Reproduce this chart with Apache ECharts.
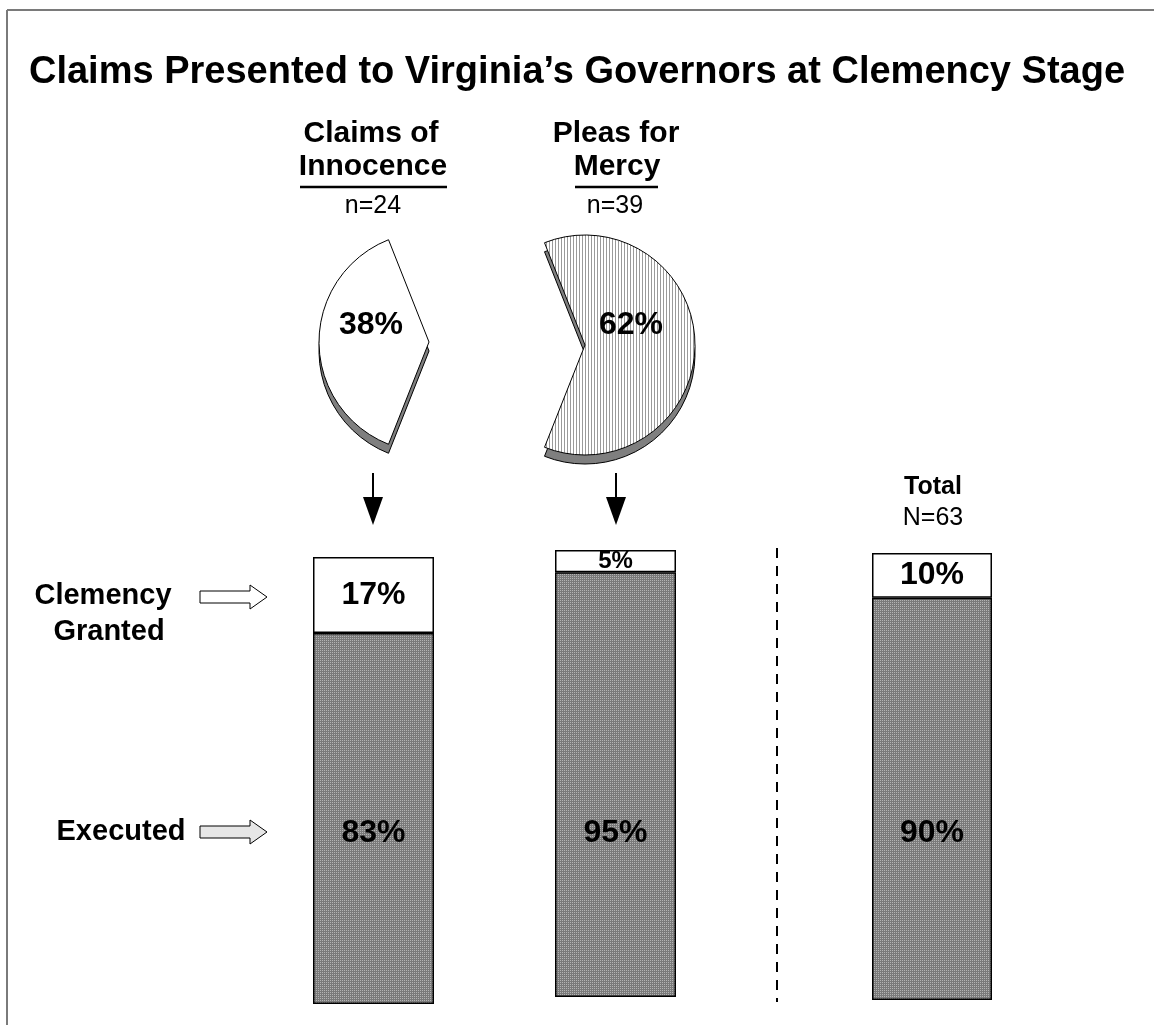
<!DOCTYPE html>
<html>
<head>
<meta charset="UTF-8">
<title>Claims Presented to Virginia's Governors at Clemency Stage</title>
<script src="https://cdn.jsdelivr.net/npm/echarts@6/dist/echarts.min.js"></script>
<style type="text/css">
body{
	padding:0;
	margin:0;
	background:#fff;
}
#main{
	width:1154px;
	height:1025px;
}
</style>
</head>
<body>
<div id="main"></div>
<script type="text/javascript">
// data
var groups = ['Claims of Innocence', 'Pleas for Mercy', 'Total'];
var groupN = ['n=24', 'n=39', 'N=63'];
var granted = [17, 5, 10];
var executed = [83, 95, 90];
var pieShares = [38, 62];

var FONT = 'Liberation Sans, Arial, sans-serif';

// little fill patterns like the original's
function makePattern(w, h, draw) {
	var c = document.createElement('canvas');
	c.width = w; c.height = h;
	draw(c.getContext('2d'));
	return c;
}
var dots = makePattern(2, 2, function (g) {
	g.fillStyle = '#7a7a7a'; g.fillRect(0, 0, 2, 2);
	g.fillStyle = '#b4b4b4'; g.fillRect(0, 0, 1, 1);
});
var hatch = makePattern(3, 1, function (g) {
	g.fillStyle = '#ffffff'; g.fillRect(0, 0, 3, 1);
	g.fillStyle = '#9a9a9a'; g.fillRect(0, 0, 1, 1);
});

// where each bar panel sits
var panels = [
	{left: 313, top: 557, width: 121, height: 447, dist: 155},
	{left: 555, top: 550, width: 121, height: 447, dist: 148},
	{left: 872, top: 553, width: 120, height: 447, dist: 151}
];

var grid = [], xAxis = [], yAxis = [], series = [];
panels.forEach(function (p, i) {
	grid.push({left: p.left, top: p.top, width: p.width, height: p.height});
	xAxis.push({type: 'category', gridIndex: i, data: [groups[i]], show: false});
	yAxis.push({type: 'value', gridIndex: i, min: 0, max: 100, show: false});
	series.push({
		type: 'bar', name: 'Executed', xAxisIndex: i, yAxisIndex: i, stack: 's' + i,
		barWidth: '100%', silent: true,
		itemStyle: {color: {image: dots, repeat: 'repeat'}, borderColor: '#000', borderWidth: 1.5},
		label: {
			show: true, position: 'insideBottom', distance: p.dist,
			formatter: '{c}%', color: '#000', fontFamily: FONT, fontWeight: 'bold', fontSize: 32
		},
		data: [executed[i]]
	});
	series.push({
		type: 'bar', name: 'Clemency Granted', xAxisIndex: i, yAxisIndex: i, stack: 's' + i,
		barWidth: '100%', silent: true,
		itemStyle: {color: '#fff', borderColor: '#000', borderWidth: 1.5},
		label: {
			show: true, position: 'inside', formatter: '{c}%', color: '#000',
			fontFamily: FONT, fontWeight: 'bold', fontSize: granted[i] < 8 ? 24 : 32
		},
		data: [granted[i]]
	});
});

// the two exploded slices, each with a shifted grey copy under it for the 3D rim
var pieDefs = [
	{cx: 429, cy: 342, start: 180 + pieShares[0] * 1.8, fill: '#ffffff', off: [0, -17]},
	{cx: 585, cy: 345, start: pieShares[1] * 1.8, fill: {image: hatch, repeat: 'repeat'}, off: [-12, -20]}
];
pieShares.forEach(function (v, i) {
	var d = pieDefs[i];
	var hidden = {value: 100 - v, itemStyle: {color: 'rgba(0,0,0,0)', borderWidth: 0}, label: {show: false}};
	series.push({
		type: 'pie', silent: true, radius: 110, center: [d.cx, d.cy + 9], startAngle: d.start,
		clockwise: true,
		itemStyle: {color: '#7f7f7f', borderColor: '#000', borderWidth: 1},
		label: {show: false}, labelLine: {show: false},
		data: [{value: v}, hidden]
	});
	series.push({
		type: 'pie', silent: true, radius: 110, center: [d.cx, d.cy], startAngle: d.start,
		clockwise: true,
		itemStyle: {color: d.fill, borderColor: '#000', borderWidth: 1},
		label: {
			show: true, position: 'inside', formatter: '{c}%', offset: d.off,
			color: '#000', fontFamily: FONT, fontWeight: 'bold', fontSize: 32
		},
		labelLine: {show: false},
		data: [{value: v}, hidden]
	});
});

function txt(x, y, s, size, bold) {
	return {
		type: 'text', x: x, y: y, silent: true,
		style: {text: s, fill: '#000', font: (bold ? 'bold ' : '') + size + 'px ' + FONT, align: 'center', verticalAlign: 'middle'}
	};
}
function downArrow(x) {
	return [
		{type: 'line', silent: true, shape: {x1: x, y1: 473, x2: x, y2: 500}, style: {stroke: '#000', lineWidth: 2}},
		{type: 'polygon', silent: true, shape: {points: [[x - 10, 497], [x + 10, 497], [x, 525]]}, style: {fill: '#000'}}
	];
}
function rightArrow(y, fill) {
	return {
		type: 'polygon', silent: true,
		shape: {points: [[200, y - 6], [250, y - 6], [250, y - 12], [267, y], [250, y + 12], [250, y + 6], [200, y + 6]]},
		style: {fill: fill, stroke: '#000', lineWidth: 1}
	};
}

var graphic = [
	{type: 'line', silent: true, shape: {x1: 7, y1: 10, x2: 1154, y2: 10}, style: {stroke: '#7a7a7a', lineWidth: 2}},
	{type: 'line', silent: true, shape: {x1: 7, y1: 10, x2: 7, y2: 1025}, style: {stroke: '#7a7a7a', lineWidth: 2}},
	txt(371, 134, 'Claims of', 30, true),
	txt(373, 167, 'Innocence', 30, true),
	{type: 'line', silent: true, shape: {x1: 300, y1: 187, x2: 447, y2: 187}, style: {stroke: '#000', lineWidth: 2.5}},
	txt(373, 206, groupN[0], 25, false),
	txt(616, 134, 'Pleas for', 30, true),
	txt(617, 167, 'Mercy', 30, true),
	{type: 'line', silent: true, shape: {x1: 575, y1: 187, x2: 658, y2: 187}, style: {stroke: '#000', lineWidth: 2.5}},
	txt(615, 206, groupN[1], 25, false),
	txt(933, 487, groups[2], 25, true),
	txt(933, 518, groupN[2], 25, false),
	txt(103, 596, 'Clemency', 29, true),
	txt(109, 632, 'Granted', 29, true),
	txt(121, 832, 'Executed', 29, true),
	rightArrow(597, '#ffffff'),
	rightArrow(832, '#e6e6e6'),
	{type: 'line', silent: true, shape: {x1: 777, y1: 548, x2: 777, y2: 1002}, style: {stroke: '#000', lineWidth: 2, lineDash: [10, 8]}}
].concat(downArrow(373), downArrow(616));

var myChart = echarts.init(document.getElementById('main'));
var option = {
	animation: false,
	backgroundColor: '#fff',
	title: {
		text: 'Claims Presented to Virginia\u2019s Governors at Clemency Stage',
		left: 'center', top: 49,
		textStyle: {fontFamily: FONT, fontWeight: 'bold', fontSize: 38, color: '#000'}
	},
	grid: grid,
	xAxis: xAxis,
	yAxis: yAxis,
	series: series,
	graphic: graphic
};
myChart.setOption(option);
</script>
</body>
</html>
